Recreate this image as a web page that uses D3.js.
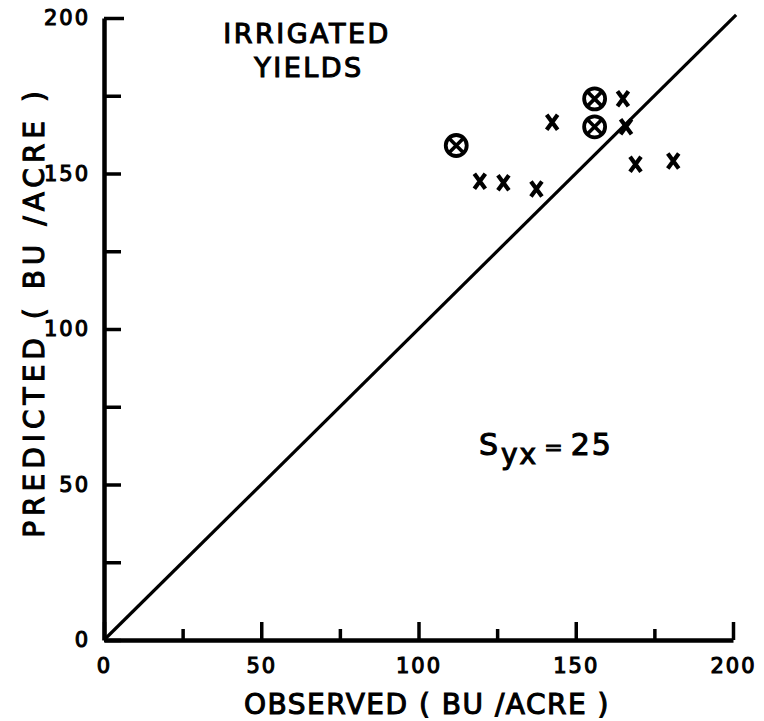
<!DOCTYPE html>
<html>
<head>
<meta charset="utf-8">
<script src="https://cdn.jsdelivr.net/npm/d3@7"></script>
<style>
  html, body { margin: 0; padding: 0; background: #fff; }
  svg { display: block; }
  text { font-family: "DejaVu Sans", sans-serif; fill: #000; }
</style>
</head>
<body>
<script>
// ---- data ----
const observedX = [119.5, 127, 137.5, 142.5, 165, 166, 169, 181];
const predictedX = [147.5, 147, 145, 166.5, 174, 165, 153, 154];
const observedCircled = [112, 156, 156];
const predictedCircled = [159, 174, 165];
const majorTicks = [0, 50, 100, 150, 200];
const minorTicks = [25, 75, 125, 175];
const yTicks = [0, 25, 50, 75, 100, 125, 150, 175, 200];
const yTickLabels = [0, 50, 100, 150, 200];
const oneToOne = [0, 201];

const W = 764, H = 721;
const svg = d3.select("body").append("svg").attr("width", W).attr("height", H);
svg.append("rect").attr("width", W).attr("height", H).attr("fill", "#fff");

const x = d3.scaleLinear().domain([0, 200]).range([104, 733]);
const y = d3.scaleLinear().domain([0, 200]).range([640, 18]);

// x axis minor ticks
const gxMinor = svg.append("g").attr("transform", `translate(0,${y(0)})`)
  .call(d3.axisBottom(x).tickValues(minorTicks).tickSizeInner(-11).tickSizeOuter(0).tickFormat(""));
gxMinor.select(".domain").remove();
// x axis major
const gx = svg.append("g").attr("transform", `translate(0,${y(0)})`)
  .call(d3.axisBottom(x).tickValues(majorTicks).tickSizeInner(-18).tickSizeOuter(0).tickPadding(18));
// y axis
const gy = svg.append("g").attr("transform", `translate(${x(0)},0)`)
  .call(d3.axisLeft(y).tickValues(yTicks).tickSizeInner(-17).tickSizeOuter(0).tickPadding(14)
    .tickFormat(d => yTickLabels.includes(d) ? d : ""));

[gx, gy, gxMinor].forEach(g => {
  g.selectAll(".domain").attr("stroke", "#000").attr("stroke-width", 4.5);
  g.selectAll(".tick line").attr("stroke", "#000").attr("stroke-width", 3.5);
  g.selectAll(".tick text").attr("font-size", 21).attr("letter-spacing", 2)
    .attr("stroke", "#000").attr("stroke-width", 1.1);
});
gy.select(".tick:last-of-type line").attr("x2", 20);

// 1:1 line
svg.append("line")
  .attr("x1", x(oneToOne[0])).attr("y1", y(oneToOne[0]))
  .attr("x2", x(oneToOne[1])).attr("y2", y(oneToOne[1]))
  .attr("stroke", "#000").attr("stroke-width", 3.2);

// x markers
svg.append("g").selectAll("path").data(observedX.map((d, i) => [d, predictedX[i]]))
  .join("path")
  .attr("transform", d => `translate(${x(d[0])},${y(d[1])})`)
  .attr("d", "M-5.5,-7.5 Q0,0 5.5,7.5 M5.5,-7.5 Q0,0 -5.5,7.5")
  .attr("fill", "none").attr("stroke", "#000").attr("stroke-width", 4.2);

// circled markers
const gc = svg.append("g").selectAll("g").data(observedCircled.map((d, i) => [d, predictedCircled[i]]))
  .join("g").attr("transform", d => `translate(${x(d[0])},${y(d[1])})`);
gc.append("circle").attr("r", 10.5).attr("fill", "none").attr("stroke", "#000").attr("stroke-width", 3.8);
gc.append("path").attr("d", "M-7,-7 L7,7 M7,-7 L-7,7").attr("stroke", "#000").attr("stroke-width", 3.6);

// titles
const titleAttrs = sel => sel.attr("text-anchor", "middle").attr("stroke", "#000").attr("stroke-width", 1.1);
svg.append("text").attr("x", 307).attr("y", 43).attr("font-size", 27).attr("letter-spacing", 2.5)
  .call(titleAttrs).text("IRRIGATED");
svg.append("text").attr("x", 309).attr("y", 77).attr("font-size", 27).attr("letter-spacing", 2.5)
  .call(titleAttrs).text("YIELDS");

svg.append("text").attr("x", 427).attr("y", 714).attr("font-size", 28).attr("letter-spacing", 1.5)
  .call(titleAttrs).text("OBSERVED ( BU /ACRE )");

svg.append("text").attr("transform", "translate(44,312) rotate(-90)").attr("font-size", 28)
  .attr("letter-spacing", 5).call(titleAttrs).text("PREDICTED ( BU /ACRE )");

// Syx = 25
const s = svg.append("text").attr("x", 479).attr("y", 455)
  .attr("font-size", 30).attr("stroke", "#000").attr("stroke-width", 1.1);
s.append("tspan").text("S");
s.append("tspan").attr("dy", 9).attr("font-size", 28).attr("dx", 3).attr("letter-spacing", 2).text("yx");
s.append("tspan").attr("dy", -9).attr("dx", 6).attr("font-size", 22).text("=");
s.append("tspan").attr("dx", 8).attr("letter-spacing", 2).text("25");
</script>
</body>
</html>
